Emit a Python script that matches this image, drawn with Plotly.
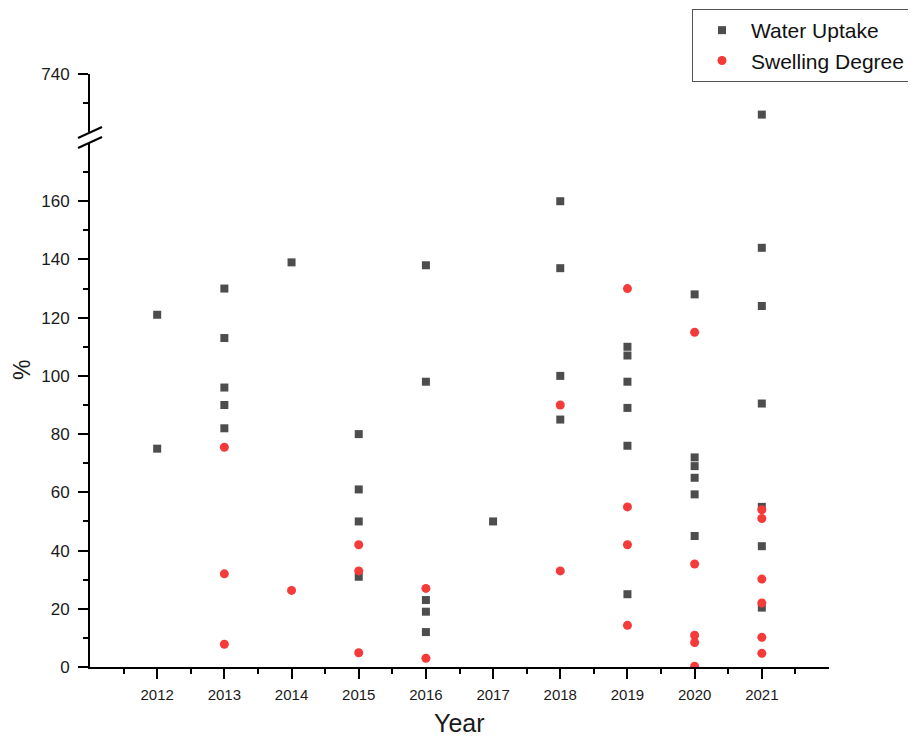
import plotly.graph_objects as go

# ---- data ----
water_years = [2012, 2012,
               2013, 2013, 2013, 2013, 2013,
               2014,
               2015, 2015, 2015, 2015,
               2016, 2016, 2016, 2016, 2016,
               2017,
               2018, 2018, 2018, 2018,
               2019, 2019, 2019, 2019, 2019, 2019,
               2020, 2020, 2020, 2020, 2020, 2020,
               2021, 2021, 2021, 2021, 2021, 2021, 2021]
water_vals = [121, 75,
              130, 113, 96, 90, 82,
              139,
              80, 61, 50, 31,
              138, 98, 23, 19, 12,
              50,
              160, 137, 100, 85,
              110, 107, 98, 89, 76, 25,
              128, 72, 69, 65, 59.3, 45,
              726, 144, 124, 90.5, 55, 41.5, 20.4]

swell_years = [2013, 2013, 2013,
               2014,
               2015, 2015, 2015,
               2016, 2016,
               2018, 2018,
               2019, 2019, 2019, 2019,
               2020, 2020, 2020, 2020, 2020,
               2021, 2021, 2021, 2021, 2021, 2021]
swell_vals = [75.5, 32, 7.8,
              26.3,
              42, 33, 4.9,
              27, 3,
              90, 33,
              130, 55, 42, 14.3,
              115, 35.4, 10.9, 8.4, 0.3,
              54, 51, 30.2, 22, 10.2, 4.7]

year_ticks = list(range(2012, 2022))
lower_ticks = list(range(0, 161, 20))
upper_ticks = [740]

lower_range = [0, 180]
upper_range = [720, 740]

FONT = "Arial, Liberation Sans, sans-serif"
WATER_COLOR = "#4d4d4d"
SWELL_COLOR = "#f53a3a"
TXT = "#1a1a1a"


def split(xs, ys, lo, hi):
    px = [x for x, y in zip(xs, ys) if lo <= y <= hi]
    py = [y for y in ys if lo <= y <= hi]
    return px, py


fig = go.Figure()

series = [
    ("Water Uptake", water_years, water_vals, "square", WATER_COLOR, 8),
    ("Swelling Degree", swell_years, swell_vals, "circle", SWELL_COLOR, 9),
]

for name, xs, ys, sym, col, sz in series:
    lx, ly = split(xs, ys, lower_range[0], lower_range[1])
    fig.add_trace(go.Scatter(x=lx, y=ly, mode="markers", name=name,
                             marker=dict(symbol=sym, color=col, size=sz,
                                         line=dict(width=0)),
                             xaxis="x", yaxis="y"))
    ux, uy = split(xs, ys, upper_range[0], upper_range[1])
    fig.add_trace(go.Scatter(x=ux, y=uy, mode="markers", name=name,
                             marker=dict(symbol=sym, color=col, size=sz,
                                         line=dict(width=0)),
                             xaxis="x", yaxis="y2", showlegend=False))

# page is shown with an 8px body margin; work in page pixels, convert
OFF = 8
W, H = 916 - OFF, 738 - OFF
L, R, T, B = 90 - OFF, 829 - OFF, 74 - OFF, 667 - OFF
pw, ph = R - L, B - T


def py2paper(py_page):
    return (B - (py_page - OFF)) / ph


def px2paper(px_page):
    return ((px_page - OFF) - L) / pw


lower_top_px = 143
upper_bot_px = 132

axis_common = dict(showline=True, linecolor="black", linewidth=2,
                   ticks="outside", tickcolor="black", tickwidth=2,
                   showgrid=False, zeroline=False)

fig.update_layout(
    width=W, height=H,
    margin=dict(l=L, r=W - R, t=T, b=H - B, autoexpand=False),
    paper_bgcolor="white", plot_bgcolor="white",
    showlegend=True,
    xaxis=dict(range=[2011, 2022], tickvals=year_ticks,
               ticktext=[str(y) for y in year_ticks],
               anchor="y", ticklen=10, ticklabelstandoff=3,
               tickfont=dict(family=FONT, size=15, color=TXT),
               minor=dict(tickvals=[y + 0.5 for y in range(2011, 2022)],
                          ticklen=5, tickwidth=2, tickcolor="black",
                          ticks="outside"),
               **axis_common),
    yaxis=dict(range=lower_range, tickvals=lower_ticks, anchor="x",
               domain=[0, py2paper(lower_top_px)], ticklen=10,
               ticklabelstandoff=5,
               tickfont=dict(family=FONT, size=17, color=TXT),
               minor=dict(tickvals=[v + 10 for v in range(0, 161, 20)],
                          ticklen=5, tickwidth=2, tickcolor="black",
                          ticks="outside"),
               **axis_common),
    yaxis2=dict(range=upper_range, tickvals=upper_ticks, anchor="x",
                domain=[py2paper(upper_bot_px), 1], ticklen=10,
                ticklabelstandoff=5,
                tickfont=dict(family=FONT, size=17, color=TXT),
                minor=dict(tickvals=[730], ticklen=5, tickwidth=2,
                           tickcolor="black", ticks="outside"),
                **axis_common),
    legend=dict(x=px2paper(692), y=py2paper(9), xanchor="left",
                yanchor="top", bgcolor="white", bordercolor="#555",
                borderwidth=1, font=dict(family=FONT, size=21, color="#111"),
                itemwidth=48, tracegroupgap=0),
)

# axis-break slashes
for y0, y1 in [(138, 127), (148, 137)]:
    fig.add_shape(type="line", xref="paper", yref="paper",
                  x0=px2paper(78), y0=py2paper(y0),
                  x1=px2paper(102), y1=py2paper(y1),
                  line=dict(color="black", width=2))

fig.add_annotation(text="%", xref="paper", yref="paper",
                   x=px2paper(22), y=py2paper(370), xanchor="center",
                   yanchor="middle", showarrow=False, textangle=-90,
                   font=dict(family=FONT, size=23, color=TXT))

fig.add_annotation(text="Year", xref="paper", yref="paper",
                   x=px2paper(459), y=py2paper(723), xanchor="center",
                   yanchor="middle", showarrow=False,
                   font=dict(family=FONT, size=25, color=TXT))

fig.write_html("out.html")
